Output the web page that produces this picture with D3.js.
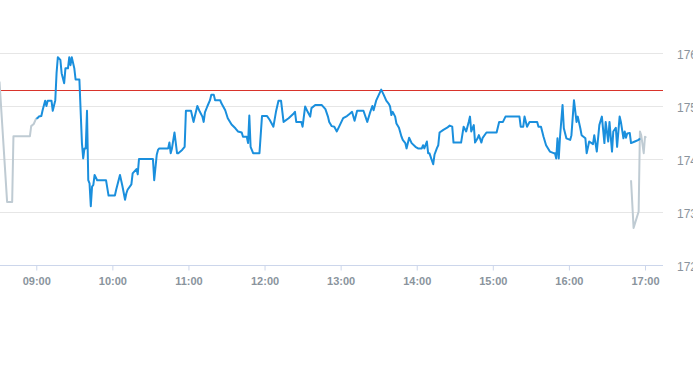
<!DOCTYPE html>
<html>
<head>
<meta charset="utf-8">
<script src="https://cdn.jsdelivr.net/npm/d3@7"></script>
<style>
  html, body { margin: 0; padding: 0; background: #fff; }
  svg { display: block; }
</style>
</head>
<body>
<svg id="chart" width="693" height="365"></svg>
<script>
// Intraday price chart

// pre-market (gray)
const preTimes = ["08:31", "08:37", "08:41", "08:42", "08:55", "08:56", "08:58", "09:00"];
const prePrices = [175.46, 173.19, 173.19, 174.43, 174.43, 174.62, 174.66, 174.77];

// regular session (blue)
const sessionTimes = [
  "09:00", "09:01", "09:02", "09:04", "09:05", "09:07", "09:08", "09:09", "09:12", "09:13",
  "09:15", "09:16", "09:17", "09:19", "09:20", "09:22", "09:23", "09:25", "09:26", "09:27",
  "09:28", "09:30", "09:31", "09:34", "09:36", "09:37", "09:38", "09:39", "09:40", "09:41",
  "09:42", "09:43", "09:44", "09:45", "09:46", "09:48", "09:55", "09:57", "10:02", "10:03",
  "10:06", "10:08", "10:10", "10:11", "10:12", "10:15", "10:16", "10:19", "10:20", "10:21",
  "10:32", "10:33", "10:35", "10:36", "10:37", "10:44", "10:45", "10:46", "10:47", "10:49",
  "10:51", "10:52", "10:55", "10:57", "10:58", "11:02", "11:04", "11:05", "11:07", "11:09",
  "11:11", "11:12", "11:13", "11:15", "11:17", "11:18", "11:20", "11:21", "11:25", "11:26",
  "11:29", "11:31", "11:34", "11:37", "11:39", "11:42", "11:43", "11:46", "11:47", "11:48",
  "11:49", "11:51", "11:56", "11:58", "12:02", "12:04", "12:07", "12:09", "12:11", "12:13",
  "12:15", "12:19", "12:23", "12:24", "12:25", "12:29", "12:30", "12:32", "12:34", "12:36",
  "12:37", "12:40", "12:45", "12:48", "12:50", "12:51", "12:53", "12:55", "12:57", "12:59",
  "13:02", "13:05", "13:07", "13:09", "13:11", "13:13", "13:18", "13:21", "13:23", "13:25",
  "13:26", "13:28", "13:32", "13:34", "13:36", "13:38", "13:39", "13:40", "13:41", "13:43",
  "13:44", "13:46", "13:48", "13:49", "13:51", "13:52", "13:54", "13:56", "13:59", "14:01",
  "14:04", "14:05", "14:06", "14:08", "14:09", "14:10", "14:11", "14:13", "14:14", "14:16",
  "14:17", "14:18", "14:21", "14:24", "14:26", "14:28", "14:29", "14:35", "14:37", "14:39",
  "14:41", "14:42", "14:43", "14:45", "14:46", "14:48", "14:49", "14:51", "14:52", "14:55",
  "15:03", "15:05", "15:08", "15:10", "15:21", "15:22", "15:24", "15:25", "15:27", "15:29",
  "15:35", "15:36", "15:38", "15:40", "15:42", "15:45", "15:48", "15:49", "15:50", "15:51",
  "15:52", "15:53", "15:55", "15:56", "15:58", "16:01", "16:02", "16:04", "16:06", "16:07",
  "16:09", "16:10", "16:13", "16:14", "16:16", "16:19", "16:20", "16:22", "16:24", "16:26",
  "16:28", "16:29", "16:31", "16:32", "16:34", "16:35", "16:37", "16:38", "16:40", "16:41",
  "16:43", "16:44", "16:45", "16:46", "16:48", "16:49", "16:52", "16:55", "16:56"
];
const sessionPrices = [
  174.77, 174.77, 174.80, 174.81, 174.92, 175.10, 175.00, 175.10, 175.10, 174.91,
  175.11, 175.62, 175.92, 175.87, 175.62, 175.43, 175.71, 175.71, 175.92, 175.77,
  175.92, 175.71, 175.50, 175.50, 174.30, 174.01, 174.20, 174.20, 174.91, 173.60,
  173.54, 173.11, 173.48, 173.51, 173.70, 173.60, 173.60, 173.31, 173.31, 173.42,
  173.70, 173.48, 173.23, 173.35, 173.42, 173.52, 173.73, 173.81, 173.71, 174.00,
  174.00, 173.60, 174.08, 174.17, 174.20, 174.20, 174.31, 174.11, 174.20, 174.50,
  174.11, 174.11, 174.17, 174.23, 174.91, 174.91, 174.70, 174.80, 175.00, 174.89,
  174.80, 174.70, 174.88, 175.00, 175.11, 175.21, 175.21, 175.11, 175.11, 175.05,
  174.92, 174.77, 174.65, 174.58, 174.52, 174.50, 174.42, 174.42, 174.30, 174.82,
  174.23, 174.11, 174.11, 174.81, 174.81, 174.74, 174.61, 174.89, 175.10, 175.10,
  174.70, 174.77, 174.86, 174.89, 174.70, 174.70, 174.61, 174.99, 174.89, 174.80,
  174.96, 175.02, 175.02, 174.94, 174.80, 174.70, 174.62, 174.61, 174.52, 174.62,
  174.77, 174.81, 174.85, 174.89, 174.72, 174.91, 174.91, 174.70, 174.86, 175.00,
  174.92, 175.10, 175.31, 175.21, 175.10, 175.04, 174.99, 174.83, 174.89, 174.80,
  174.67, 174.59, 174.42, 174.36, 174.30, 174.20, 174.40, 174.30, 174.23, 174.20,
  174.20, 174.26, 174.20, 174.33, 174.11, 174.11, 174.04, 173.90, 174.08, 174.21,
  174.26, 174.50, 174.55, 174.59, 174.63, 174.61, 174.31, 174.31, 174.61, 174.52,
  174.70, 174.80, 174.52, 174.64, 174.31, 174.39, 174.45, 174.31, 174.40, 174.50,
  174.50, 174.70, 174.70, 174.80, 174.80, 174.61, 174.61, 174.80, 174.61, 174.70,
  174.70, 174.61, 174.61, 174.42, 174.26, 174.14, 174.11, 174.11, 174.01, 174.39,
  174.01, 174.42, 175.02, 174.58, 174.39, 174.36, 174.45, 175.11, 174.70, 174.80,
  174.58, 174.45, 174.39, 174.11, 174.33, 174.28, 174.45, 174.14, 174.64, 174.80,
  174.30, 174.70, 174.33, 174.70, 174.14, 174.52, 174.59, 174.23, 174.80, 174.70,
  174.39, 174.52, 174.40, 174.48, 174.49, 174.30, 174.33, 174.36, 174.39
];

// after-hours (gray)
const postTimes = ["16:49", "16:51", "16:55", "16:56", "16:57", "16:59", "17:00", "17:01"];
const postPrices = [173.60, 172.70, 173.01, 174.52, 174.45, 174.11, 174.42, 174.40];

const prevClose = 175.30;
const yTicks = [172, 173, 174, 175, 176];
const xTicks = ["09:00", "10:00", "11:00", "12:00", "13:00", "14:00", "15:00", "16:00", "17:00"];

const parseTime = d3.timeParse("%Y-%m-%d %H:%M:%S");
const day = t => parseTime("2024-01-02 " + (t.length === 5 ? t + ":00" : t));

const plotW = 663;
const yTop = 53, yBottom = 265;

const x = d3.scaleTime()
    .domain([day("08:31:24"), day("17:14:12")])
    .range([0, plotW]);

const y = d3.scaleLinear()
    .domain([172, 176])
    .range([yBottom, yTop]);

const svg = d3.select('#chart');
const labelColor = '#8a949d';

svg.append('defs').append('clipPath')
    .attr('id', 'plot-clip')
    .append('rect')
    .attr('x', 0).attr('y', 0)
    .attr('width', plotW).attr('height', 300);

// horizontal grid lines
svg.append('g')
    .selectAll('line')
    .data(yTicks.filter(v => v !== 172))
    .join('line')
    .attr('x1', 0).attr('x2', plotW)
    .attr('y1', d => Math.round(y(d)) + 0.5)
    .attr('y2', d => Math.round(y(d)) + 0.5)
    .attr('stroke', '#e6e6e6')
    .attr('stroke-width', 1);

// y labels on the right (cut by the window edge, as in the source)
svg.append('g')
    .selectAll('text')
    .data(yTicks)
    .join('text')
    .attr('x', 677)
    .attr('y', d => y(d) + 6)
    .style('font-family', '"Liberation Sans", Arial, sans-serif')
    .style('font-size', '12px')
    .style('fill', labelColor)
    .text(d => d);

// x axis
const xAxis = d3.axisBottom(x)
    .tickValues(xTicks.map(day))
    .tickFormat(d3.timeFormat('%H:%M'))
    .tickSize(5)
    .tickSizeOuter(0);

const gx = svg.append('g')
    .attr('transform', `translate(0,${yBottom + 0.5})`)
    .call(xAxis);
gx.select('.domain')
    .attr('stroke', '#ccd6eb')
    .attr('d', `M0,0H${plotW}`);
gx.selectAll('.tick line').attr('stroke', '#ccd6eb');
gx.selectAll('.tick text')
    .attr('y', 12)
    .style('font-family', '"Liberation Sans", Arial, sans-serif')
    .style('font-size', '11px')
    .style('font-weight', 'bold')
    .style('fill', labelColor);

// previous close line
svg.append('line')
    .attr('x1', 0).attr('x2', plotW)
    .attr('y1', Math.round(y(prevClose)) + 0.5)
    .attr('y2', Math.round(y(prevClose)) + 0.5)
    .attr('stroke', '#d9342b')
    .attr('stroke-width', 1);

const line = d3.line()
    .x(d => x(d[0]))
    .y(d => y(d[1]));

const series = (times, prices) => times.map((t, i) => [day(t), prices[i]]);

const lines = svg.append('g').attr('clip-path', 'url(#plot-clip)');

lines.append('path')
    .datum(series(preTimes, prePrices))
    .attr('d', line)
    .attr('fill', 'none')
    .attr('stroke', '#bfcbd3')
    .attr('stroke-width', 2)
    .attr('stroke-linejoin', 'round');

lines.append('path')
    .datum(series(postTimes, postPrices))
    .attr('d', line)
    .attr('fill', 'none')
    .attr('stroke', '#bfcbd3')
    .attr('stroke-width', 2)
    .attr('stroke-linejoin', 'round');

lines.append('path')
    .datum(series(sessionTimes, sessionPrices))
    .attr('d', line)
    .attr('fill', 'none')
    .attr('stroke', '#1a8fdd')
    .attr('stroke-width', 2)
    .attr('stroke-linejoin', 'round');
</script>
</body>
</html>
